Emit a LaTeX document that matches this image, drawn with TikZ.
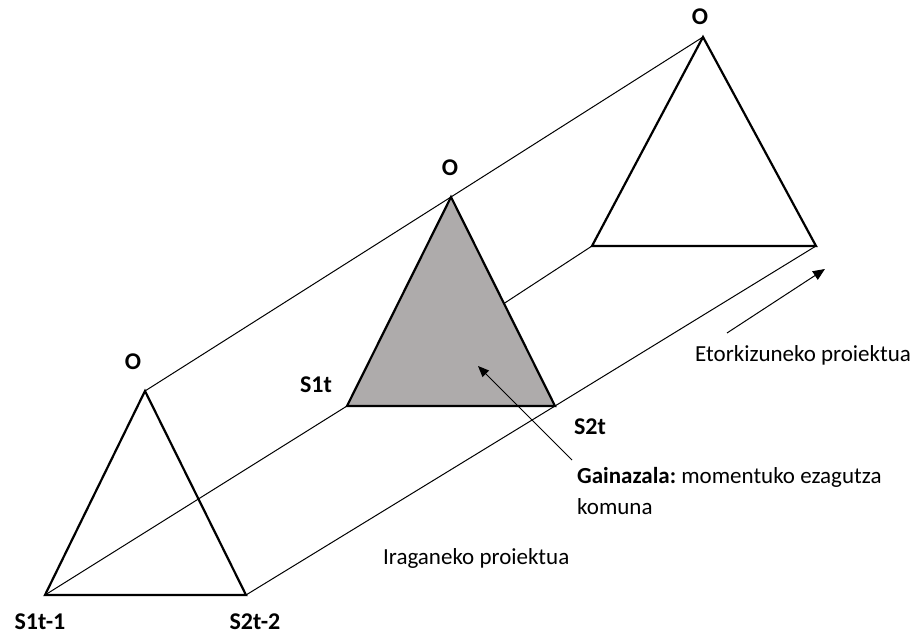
\documentclass[tikz,border=0pt]{standalone}
\usepackage{fontspec}
\setmainfont{Carlito}
\usepackage{xcolor}
\usetikzlibrary{arrows.meta}

\definecolor{surface}{RGB}{174,171,171}
\frenchspacing

\begin{document}
\begin{tikzpicture}[x=1pt, y=-1pt,
  tri/.style={line width=2.2pt, line join=miter},
  link/.style={line width=1pt},
  lbl/.style={font=\fontsize{24}{28}\selectfont\bfseries, inner sep=0pt, anchor=base},
  txt/.style={font=\fontsize{23}{31}\selectfont, inner sep=0pt, anchor=base west, align=left}]
\useasboundingbox (0,0) rectangle (919,636);

% Corners of the three triangles
\coordinate (O1) at (145,391);
\coordinate (A1) at (45,595);
\coordinate (B1) at (246,595);
\coordinate (O2) at (451,197);
\coordinate (A2) at (347,406);
\coordinate (B2) at (555,406);
\coordinate (O3) at (703,37);
\coordinate (A3) at (592,246);
\coordinate (B3) at (816,246);

% Edges of the prism
\draw[link] (O1) -- (O2) -- (O3);
\draw[link] (A1) -- (A2) -- (A3);
\draw[link] (B1) -- (B2) -- (B3);

% Past, present and future triangles
\draw[tri] (O1) -- (A1) -- (B1) -- cycle;
\draw[tri, fill=surface] (O2) -- (A2) -- (B2) -- cycle;
\draw[tri] (O3) -- (A3) -- (B3) -- cycle;

% Corner labels
\node[lbl] (o1) at (133,370) {O};
\node[lbl] (o2) at (450,176) {O};
\node[lbl] (o3) at (700,25) {O};
\node[lbl] (s1past) at (40,629) {S1t-1};
\node[lbl] (s2past) at (255,629) {S2t-2};
\node[lbl] (s1now) at (316,392) {S1t};
\node[lbl] (s2now) at (590,435) {S2t};

% Texts
\node[txt] (future) at (695,362) {Etorkizuneko proiektua};
\node[txt] (past) at (383,564) {Iraganeko proiektua};
\node[txt] (gain) at (577,514) {\textbf{Gainazala:} momentuko ezagutza\\komuna};

% Arrows
\coordinate (ftail) at (727,333);
\coordinate (fhead) at (825,269);
\draw[link, -{Triangle[length=12pt,width=10pt]}] (ftail) -- (fhead);
\coordinate (ptail) at (572,460);
\coordinate (phead) at (478,366);
\draw[link, -{Triangle[length=11pt,width=9pt]}] (ptail) -- (phead);
\end{tikzpicture}
\end{document}
